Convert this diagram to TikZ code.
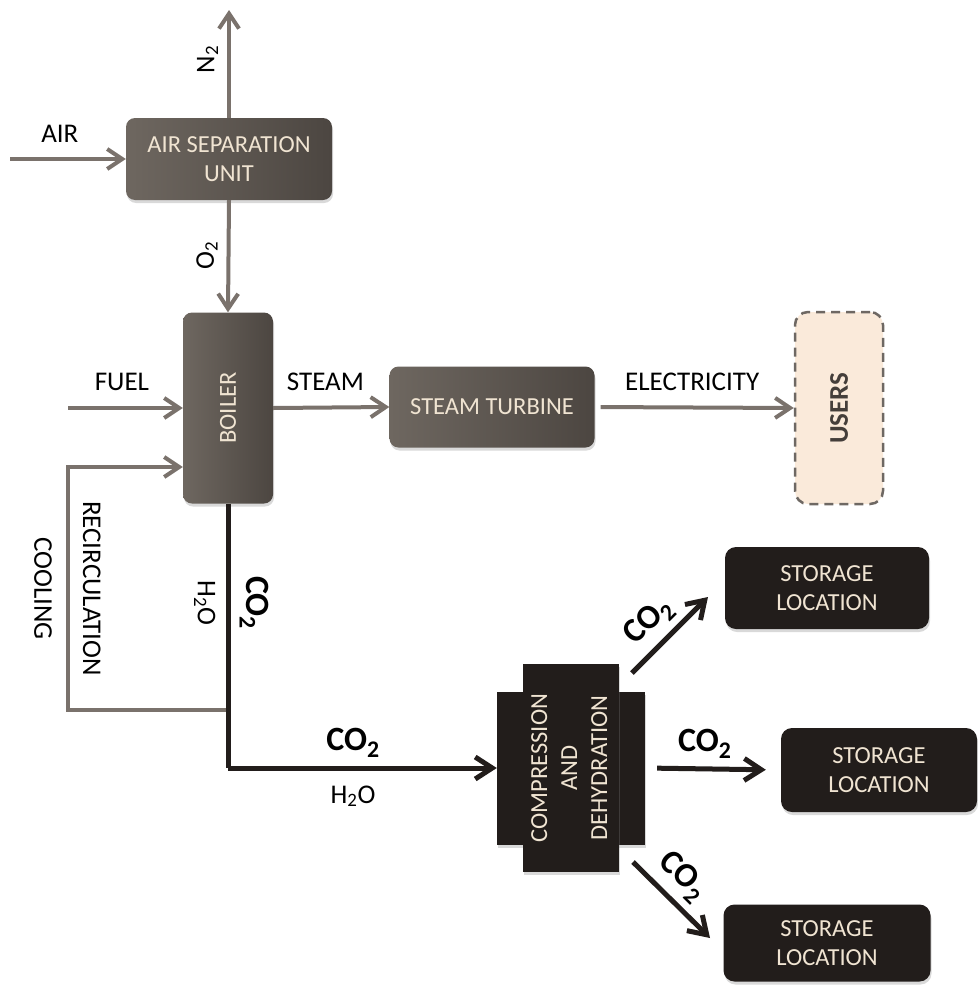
\documentclass[tikz,border=0pt]{standalone}
\usepackage{fontspec}
\setmainfont{Carlito}
\usetikzlibrary{arrows.meta,shadows}
\definecolor{flowgray}{RGB}{122,114,108}
\definecolor{unitlight}{RGB}{110,103,96}
\definecolor{unitdark}{RGB}{76,70,65}
\definecolor{unittext}{RGB}{240,228,210}
\definecolor{storeblack}{RGB}{34,29,27}
\definecolor{userfill}{RGB}{250,234,218}
\definecolor{userline}{RGB}{110,104,99}
\definecolor{usertext}{RGB}{68,62,58}
\newcommand\boxfont{\fontsize{24.5}{28.5}\selectfont}
\newcommand\labfont{\fontsize{27}{30}\selectfont}
\newcommand\cofont{\fontsize{34}{36}\selectfont\bfseries}
\tikzset{>={Straight Barb[length=15pt,width=20pt]}}
\tikzset{
  unit/.style={rounded corners=9pt,left color=unitlight,right color=unitdark,
    text=unittext,align=center,font=\boxfont,
    drop shadow={opacity=0.3,shadow xshift=1pt,shadow yshift=-3pt}},
  store/.style={rounded corners=11pt,fill=storeblack,text=unittext,align=center,
    font=\boxfont,drop shadow={opacity=0.3,shadow xshift=1pt,shadow yshift=-3pt}},
  users/.style={rounded corners=13pt,fill=userfill,draw=userline,line width=2.5pt,
    dash pattern=on 9pt off 6pt,text=usertext,font=\fontsize{27}{30}\selectfont\bfseries},
  lab/.style={font=\labfont,text=black,inner xsep=2pt,inner ysep=15pt}
}

\begin{document}
\begin{tikzpicture}[x=1pt,y=-1pt]
\useasboundingbox (0,0) rectangle (977,985);

% process units
\begin{scope}[every node/.style={unit}]
\node (asu) at (229,159) [minimum width=206pt,minimum height=82pt] {AIR SEPARATION\\UNIT};
\node (boiler) at (228,408) [minimum width=90pt,minimum height=191pt] {\rotatebox{90}{BOILER}};
\node (turbine) at (492,407) [minimum width=205pt,minimum height=81pt] {STEAM TURBINE};
\end{scope}
\node (users) at (839,408) [users,minimum width=88pt,minimum height=192pt] {\rotatebox{90}{USERS}};

% co2 handling
\begin{scope}[every node/.style={store}]
\node (compw) at (571,768) [sharp corners,minimum width=148pt,minimum height=153pt] {};
\node (comp) at (571,768) [sharp corners,minimum width=94pt,minimum height=208pt]
  {\rotatebox{90}{\fontsize{24.5}{30}\selectfont\begin{tabular}{@{}c@{}}COMPRESSION\\AND\\DEHYDRATION\end{tabular}}};
\node (store1) at (827,588) [minimum width=204pt,minimum height=82pt] {STORAGE\\LOCATION};
\node (store2) at (879,770) [minimum width=196pt,minimum height=84pt] {STORAGE\\LOCATION};
\node (store3) at (827,943) [minimum width=207pt,minimum height=77pt] {STORAGE\\LOCATION};
\end{scope}

\coordinate (airin) at (10,159);
\coordinate (n2out) at (229,10);
\coordinate (fuelin) at (68,408);
\coordinate (recin) at (68,467);
\coordinate (split) at (228,710);
\coordinate (bend) at (228,768);
\coordinate (up1) at (632,673);
\coordinate (up2) at (708,597);
\coordinate (dn1) at (633,862);
\coordinate (dn2) at (710,938);

% gray streams
\begin{scope}[every node/.style={lab},
    every edge/.style={draw=flowgray,line width=4pt}]
    \path [->] (airin) edge node[above,pos=0.43] {AIR} (airin -| asu.west);
    \path [->] (asu.north) edge node[rotate=90,anchor=south,pos=0.54,inner ysep=9pt] {N\textsubscript{2}} (n2out);
    \path [->] (asu.south) edge node[rotate=90,anchor=south,pos=0.49,inner ysep=9pt] {O\textsubscript{2}} (boiler.north);
    \path [->] (fuelin) edge node[above,pos=0.47] {FUEL} (fuelin -| boiler.west);
    \path [->] (boiler.east) edge node[above,pos=0.45] {STEAM} (turbine.west);
    \path [->] (turbine.east) edge[shorten <=6pt] node[above,pos=0.49] {ELECTRICITY} (users.west);

    \draw [->,flowgray,line width=4pt] (split) -|
        node[rotate=-90,anchor=south,pos=0.75,inner ysep=13pt] {RECIRCULATION}
        node[rotate=-90,anchor=north,pos=0.75,inner ysep=14pt] {COOLING}
        (recin) -- (recin -| boiler.west);
\end{scope}

% flue gas
\begin{scope}[>={Straight Barb[length=17pt,width=22pt]},
    every node/.style={lab},
    every edge/.style={draw=storeblack,line width=5pt}]
    \path (boiler.south) edge
        node[rotate=-90,anchor=south,pos=0.375,inner ysep=9pt,font=\cofont] {CO\textsubscript{2}}
        node[rotate=-90,anchor=north,pos=0.375,inner ysep=10pt] {H\textsubscript{2}O} (bend);
    \path [->] (bend) edge
        node[above,pos=0.465,inner ysep=8pt,font=\cofont] {CO\textsubscript{2}}
        node[below,pos=0.465,inner ysep=15pt] {H\textsubscript{2}O} (compw.west);

    \path [->] (up1) edge node[sloped,above,pos=0.45,inner ysep=7pt,font=\cofont] {CO\textsubscript{2}} (up2);
    \path [->] (compw.east) edge[shorten <=12pt,shorten >=15pt]
        node[above,pos=0.44,inner ysep=8pt,font=\cofont] {CO\textsubscript{2}} (store2.west);
    \path [->] (dn1) edge node[sloped,above,pos=0.42,inner ysep=7pt,font=\cofont] {CO\textsubscript{2}} (dn2);
\end{scope}
\end{tikzpicture}
\end{document}
